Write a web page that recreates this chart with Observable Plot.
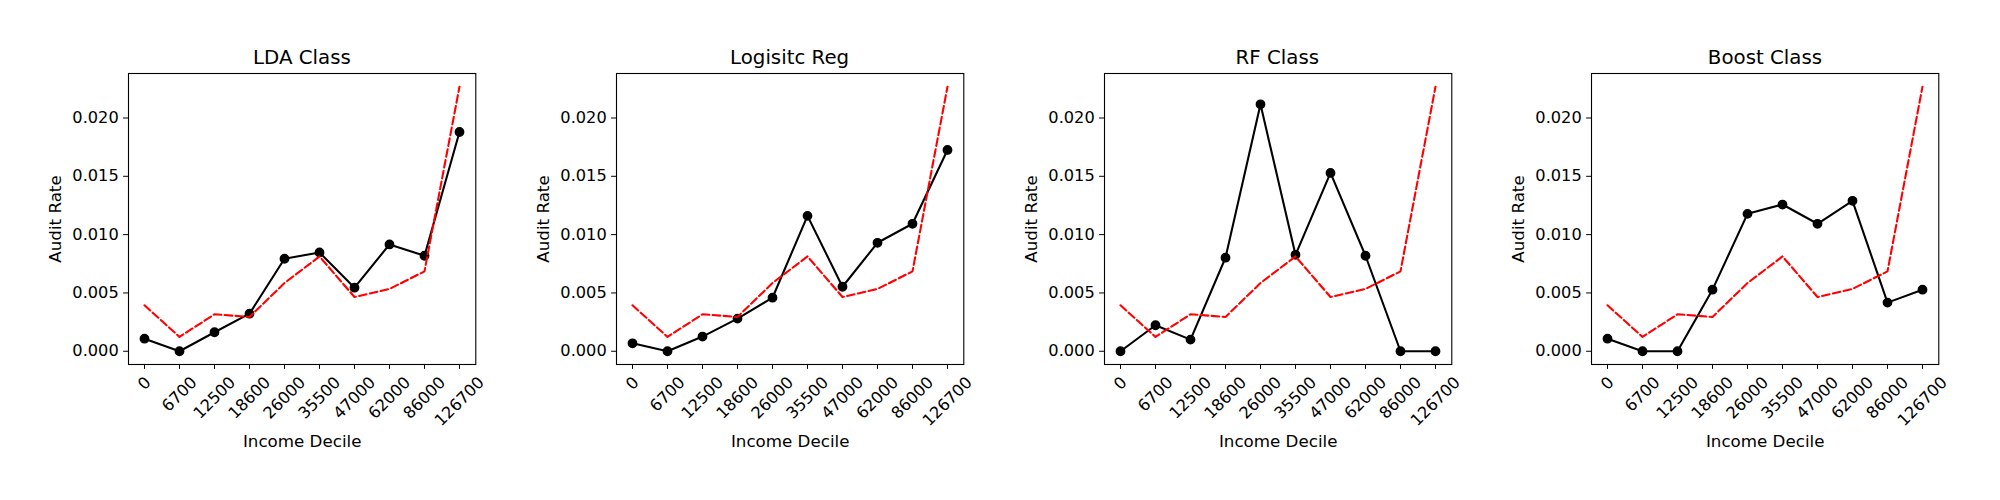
<!DOCTYPE html>
<html>
<head>
<meta charset="utf-8">
<script src="https://cdn.jsdelivr.net/npm/d3@7"></script>
<script src="https://cdn.jsdelivr.net/npm/@observablehq/plot@0.6"></script>
<style>
  html, body { margin: 0; padding: 0; background: #fff; }
  #wrap { position: relative; width: 2000px; height: 500px; overflow: hidden; font-family: "DejaVu Sans", sans-serif; }
  .title { position: absolute; text-align: center; font-size: 19.8px; line-height: 1; color: #000; white-space: nowrap; font-family: "DejaVu Sans", sans-serif; }
  .panel { position: absolute; }
</style>
</head>
<body>
<div id="wrap"></div>
<script>
// ---- data ----
const deciles = ["0", "6700", "12500", "18600", "26000", "35500", "47000", "62000", "86000", "126700"];
const actualRate = [0.00394, 0.00123, 0.00317, 0.00294, 0.00585, 0.00813, 0.00465, 0.00534, 0.00685, 0.02268];
const ldaRate = [0.00108, 0, 0.00163, 0.00322, 0.00793, 0.00847, 0.00545, 0.00916, 0.00819, 0.0188];
const logitRate = [0.00068, 0, 0.00126, 0.0028, 0.00459, 0.01161, 0.00553, 0.0093, 0.01093, 0.01726];
const rfRate = [0, 0.00223, 0.001, 0.00802, 0.02117, 0.00827, 0.01529, 0.00819, 0, 0];
const boostRate = [0.00108, 0, 0, 0.00528, 0.01178, 0.01258, 0.01093, 0.0129, 0.00417, 0.00528];
const titles = ["LDA Class", "Logisitc Reg", "RF Class", "Boost Class"];
const models = [ldaRate, logitRate, rfRate, boostRate];
const xLabel = "Income Decile";
const yLabel = "Audit Rate";

// ---- layout ----
const wrap = document.getElementById("wrap");
const frameW = 347.3, frameH = 291;
const mL = 90, mR = 25, mT = 10, mB = 100;
const firstLeft = 128.3, stepLeft = 487.67;
const svgTop = 63.3;
const tickFs = 16.2, labelFs = 16.7;

const actualData = deciles.map((d, i) => ({decile: d, rate: actualRate[i]}));
const lengths = Array.from(new Set(deciles.map(d => d.length)));

models.forEach((vals, k) => {
  const modelData = deciles.map((d, i) => ({decile: d, rate: vals[i]}));
  const all = vals.concat(actualRate);
  const lo = Math.min(0, d3.min(all)), hi = d3.max(all);
  const pad = (hi - lo) * 0.05;

  const tickLabelMarks = lengths.map(n => {
    const w = (n * 0.636 - 0.13) * tickFs, h = 0.73 * tickFs;
    const dy = 11.8 + Math.SQRT1_2 * (w / 2 + h / 2);
    return Plot.text(deciles.filter(d => d.length === n), {
      x: d => d, text: d => d, frameAnchor: "bottom", dy,
      rotate: -45, textAnchor: "middle", lineAnchor: "middle",
      fontSize: tickFs, fill: "black"
    });
  });

  const chart = Plot.plot({
    width: mL + frameW + mR,
    height: mT + frameH + mB,
    marginLeft: mL, marginRight: mR, marginTop: mT, marginBottom: mB,
    style: {fontFamily: "DejaVu Sans", fontSize: tickFs + "px", background: "white", color: "black", overflow: "visible"},
    x: {type: "point", domain: deciles, padding: 0.45, tickSize: 4.9, tickFormat: () => "", label: null},
    y: {domain: [lo - pad, hi + pad], ticks: 5, tickFormat: d3.format(".3f"), tickSize: 4.9, tickPadding: 4.9, label: null},
    marks: [
      Plot.frame({stroke: "black", strokeWidth: 1.1}),
      Plot.line(modelData, {x: "decile", y: "rate", stroke: "black", strokeWidth: 2.08}),
      Plot.dot(modelData, {x: "decile", y: "rate", r: 4.2, fill: "black", stroke: "black", strokeWidth: 1.4}),
      Plot.line(actualData, {x: "decile", y: "rate", stroke: "#ff0000", strokeWidth: 2.08, strokeDasharray: "7.7,3.3"}),
      ...tickLabelMarks,
      Plot.text([xLabel], {text: d => d, frameAnchor: "bottom", dy: 77.4, lineAnchor: "middle", textAnchor: "middle", fontSize: labelFs, fill: "black"}),
      Plot.text([yLabel], {text: d => d, frameAnchor: "left", dx: -73.3, rotate: -90, lineAnchor: "middle", textAnchor: "middle", fontSize: labelFs, fill: "black"})
    ]
  });

  const left = firstLeft + k * stepLeft;
  const panel = document.createElement("div");
  panel.className = "panel";
  panel.style.left = (left - mL) + "px";
  panel.style.top = svgTop + "px";
  panel.appendChild(chart);
  wrap.appendChild(panel);

  const t = document.createElement("div");
  t.className = "title";
  t.textContent = titles[k];
  t.style.left = left + "px";
  t.style.width = frameW + "px";
  t.style.top = "48.2px";
  wrap.appendChild(t);
});
</script>
</body>
</html>
